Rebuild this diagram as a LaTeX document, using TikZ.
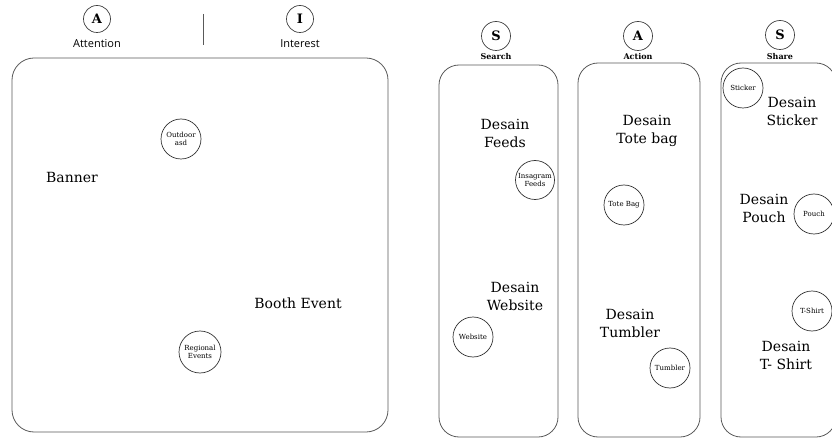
\documentclass[tikz,border=0pt]{standalone}
\usepackage{fontspec}
\setmainfont{DejaVu Serif}
\newfontfamily\labsans{Open Sans}
\begin{document}
\begin{tikzpicture}[x=1pt,y=-1pt,
  frame/.style={draw=black!65,line width=0.8pt,rounded corners=20pt},
  letter/.style={draw=black!75,circle,line width=0.7pt,minimum size=27pt,inner sep=0pt,font=\fontsize{13}{13}\selectfont\bfseries},
  sanslab/.style={font=\labsans\fontsize{11}{12}\selectfont},
  serlab/.style={font=\fontsize{8}{9}\selectfont\bfseries},
  item/.style={draw=black!80,circle,line width=0.7pt,minimum size=40pt,inner sep=0pt,align=center,font=\fontsize{7}{8}\selectfont},
  desc/.style={align=center,font=\fontsize{14}{18}\selectfont}]
\useasboundingbox (0,0) rectangle (832,438);
\begin{scope}
\clip (0,0) rectangle (832,438);
% left section
\node[letter] (cA) at (97,19) {A};
\node[sanslab] (tA) at (97,44) {Attention};
\node[letter] (cI) at (300,19) {I};
\node[sanslab] (tI) at (300,44) {Interest};
\draw[black!65,line width=0.8pt] (203,14) -- (203,45);
\draw[frame,rounded corners=22pt] (12,58) rectangle (388,432);
\node[item] (outdoor) at (181,139) {Outdoor\\asd};
\node[desc] (banner) at (72,177) {Banner};
\node[desc] (booth) at (298,303) {Booth Event};
\node[item,minimum size=42pt] (regional) at (200,352) {Regional\\Events};
% search
\node[letter,minimum size=29pt] (cS1) at (496,36) {S};
\node[serlab] (tS1) at (496,57) {Search};
\draw[frame] (439,65) rectangle (558,437);
\node[desc] (feeds) at (505,133) {Desain\\Feeds};
\node[item,minimum size=39pt] (insta) at (535,180) {Insagram\\Feeds};
\node[desc] (web) at (515,296) {Desain\\Website};
\node[item] (website) at (473,337) {Website};
% action
\node[letter,minimum size=29pt] (cA2) at (638,36) {A};
\node[serlab] (tA2) at (638,57) {Action};
\draw[frame] (578,63) rectangle (700,437);
\node[desc] (tote) at (647,131) {Desain\\Tote bag};
\node[item] (totebag) at (624,205) {Tote Bag};
\node[desc] (tumb) at (630,323) {Desain\\Tumbler};
\node[item] (tumbler) at (670,368) {Tumbler};
% share
\node[letter,minimum size=29pt] (cS2) at (780,35) {S};
\node[serlab] (tS2) at (780,57) {Share};
\draw[frame] (721,63) rectangle (836,437);
\node[item] (sticker) at (743,88) {Sticker};
\node[desc] (stick) at (792,111) {Desain\\Sticker};
\node[desc] (pouchd) at (764,208) {Desain\\Pouch};
\node[item] (pouch) at (814,214) {Pouch};
\node[item] (tshirt) at (812,311) {T-Shirt};
\node[desc] (tshirtd) at (786,355) {Desain\\T- Shirt};
\end{scope}
\end{tikzpicture}
\end{document}
